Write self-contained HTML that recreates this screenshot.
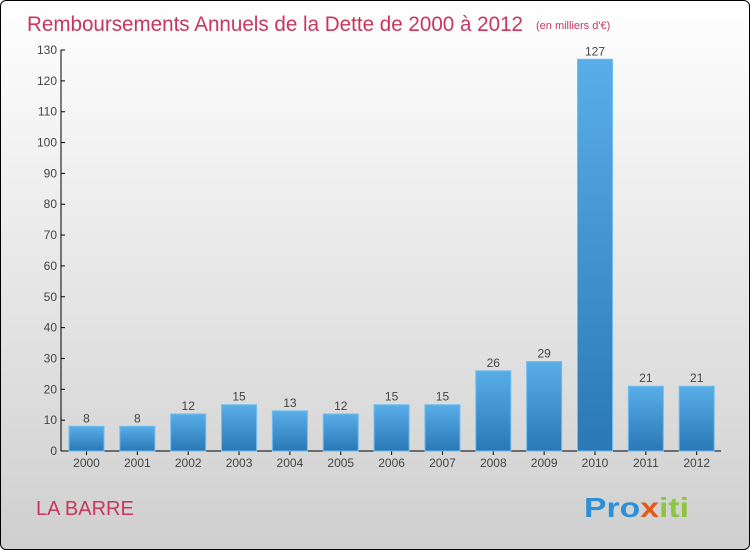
<!DOCTYPE html>
<html><head><meta charset="utf-8"><style>
body{margin:0;width:750px;height:550px;overflow:hidden;font-family:"Liberation Sans",sans-serif}
#wrap{position:absolute;left:0;top:0;width:748px;height:548px;border:1px solid #000;border-radius:6px;background:linear-gradient(#ffffff,#cfcfcf);overflow:hidden}
</style></head><body>
<div id="wrap">
<svg width="748" height="548">
<defs><linearGradient id="bg" x1="0" y1="0" x2="0" y2="1"><stop offset="0" stop-color="#59aee8"/><stop offset="1" stop-color="#2a78b6"/></linearGradient></defs>
<text x="26" y="30" font-size="21" fill="#c8365f" textLength="496" lengthAdjust="spacingAndGlyphs">Remboursements Annuels de la Dette de 2000 à 2012</text>
<text x="535" y="28" font-size="11" fill="#c8365f">(en milliers d'€)</text>
<g id="axes"></g><g id="bars"></g>
<text x="35" y="514" font-size="20" fill="#c8365f">LA BARRE</text>
<text x="583" y="516" font-size="28" font-weight="bold" fill="#f39c1f" textLength="105" lengthAdjust="spacingAndGlyphs"><tspan fill="#2f8fd6">Pro</tspan><tspan fill="#e05a1c">x</tspan><tspan fill="#8cc63f">iti</tspan></text>
</svg></div>
<script>
const categories=["2000","2001","2002","2003","2004","2005","2006","2007","2008","2009","2010","2011","2012"];
const values=[8,8,12,15,13,12,15,15,26,29,127,21,21];
const ticks=[0,10,20,30,40,50,60,70,80,90,100,110,120,130];
const NS="http://www.w3.org/2000/svg";
const y=v=>450-v*401/130, x=i=>85.5+i*50.85;
function mk(t,a,p){const e=document.createElementNS(NS,t);for(const k in a)e.setAttribute(k,a[k]);p.appendChild(e);return e;}
const ax=document.getElementById('axes'),bs=document.getElementById('bars');
let l=mk('line',{x1:60,y1:49,x2:60,y2:450,stroke:'#000'},ax);


l=mk('line',{x1:60,y1:450,x2:720,y2:450,stroke:'#000'},ax);


ticks.forEach(t=>{
 mk('line',{x1:60,y1:y(t),x2:64,y2:y(t),stroke:'#000'},ax);
 const tx=mk('text',{x:56,y:y(t)+4,'font-size':12,'text-anchor':'end',fill:'#444'},ax);tx.textContent=t;
 
 
});
categories.forEach((c,i)=>{
 const r=mk('rect',{x:x(i)-17.5,y:y(values[i]),width:35,height:450-y(values[i]),fill:'url(#bg)',stroke:'#6fbcef','stroke-width':1},bs);
 
 
 const v=mk('text',{x:x(i),y:y(values[i])-4,'font-size':12,'text-anchor':'middle',fill:'#444'},bs);v.textContent=values[i];
 
 
 mk('line',{x1:x(i),y1:450,x2:x(i),y2:454,stroke:'#000'},ax);
 const t=mk('text',{x:x(i),y:466,'font-size':12,'text-anchor':'middle',fill:'#444'},ax);t.textContent=c;
 
 
});
</script>
</body></html>
